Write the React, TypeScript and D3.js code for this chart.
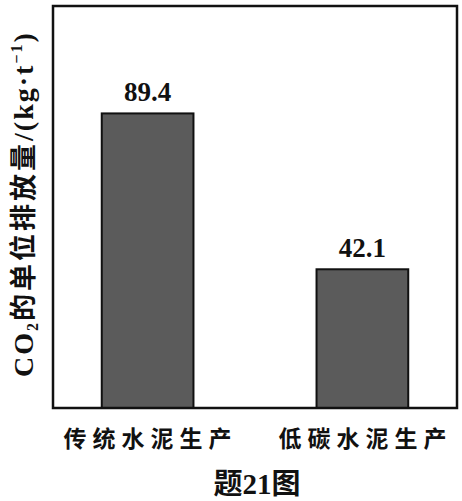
import React from 'react';
import * as d3 from 'd3';

const categories = ['传统水泥生产', '低碳水泥生产'];
const values = [89.4, 42.1];
const valueLabels = ['89.4', '42.1'];
const caption = '题21图';

const W = 462;
const H = 501;
const frame = { left: 53, top: 6, right: 457, bottom: 408 };
const yMax = 122;

export default function App() {
  const x = d3.scaleBand<string>()
    .domain(categories)
    .range([frame.left, frame.right])
    .paddingInner(0.573)
    .paddingOuter(0.227);

  const y = d3.scaleLinear()
    .domain([0, yMax])
    .range([frame.bottom, frame.top]);

  const serif = '"Liberation Serif", "Noto Sans CJK SC", serif';
  const cjk = '"Noto Sans CJK SC", sans-serif';

  return (
    <div style={{ position: 'absolute', left: 0, top: 0 }}>
      <svg width={W} height={H} style={{ display: 'block', background: '#fff' }}>
        {/* bars */}
        {categories.map((c, i) => (
          <g key={c}>
            <rect
              x={x(c)}
              y={y(values[i])}
              width={x.bandwidth()}
              height={y(0) - y(values[i])}
              fill="#5b5b5b"
              stroke="#111"
              strokeWidth={2}
            />
            <text
              x={(x(c) ?? 0) + x.bandwidth() / 2}
              y={y(values[i]) - 12}
              textAnchor="middle"
              fontFamily={serif}
              fontWeight="bold"
              fontSize={27}
              fill="#111"
            >
              {valueLabels[i]}
            </text>
            <text
              x={(x(c) ?? 0) + x.bandwidth() / 2 + 3}
              y={447}
              textAnchor="middle"
              fontFamily={cjk}
              fontWeight={700}
              fontSize={23}
              letterSpacing={6}
              fill="#111"
            >
              {c}
            </text>
          </g>
        ))}

        {/* frame */}
        <rect
          x={frame.left}
          y={frame.top}
          width={frame.right - frame.left}
          height={frame.bottom - frame.top}
          fill="none"
          stroke="#111"
          strokeWidth={2.5}
        />

        {/* y axis title */}
        <text
          transform="translate(33,204) rotate(-90)"
          textAnchor="middle"
          fontFamily={serif}
          fontWeight="bold"
          fontSize={28}
          letterSpacing={2}
          fill="#111"
        >
          <tspan>CO</tspan>
          <tspan fontSize={16} dy={5}>2</tspan>
          <tspan dy={-5} fontFamily={cjk} fontSize={27} letterSpacing={3}>的单位排放量</tspan>
          <tspan>/(kg·t</tspan>
          <tspan fontSize={16} dy={-11}>−1</tspan>
          <tspan dy={11}>)</tspan>
        </text>

        {/* caption */}
        <text
          x={257}
          y={494}
          textAnchor="middle"
          fontFamily={serif}
          fontWeight="bold"
          fontSize={29}
          fill="#111"
        >
          {caption}
        </text>
      </svg>
    </div>
  );
}
